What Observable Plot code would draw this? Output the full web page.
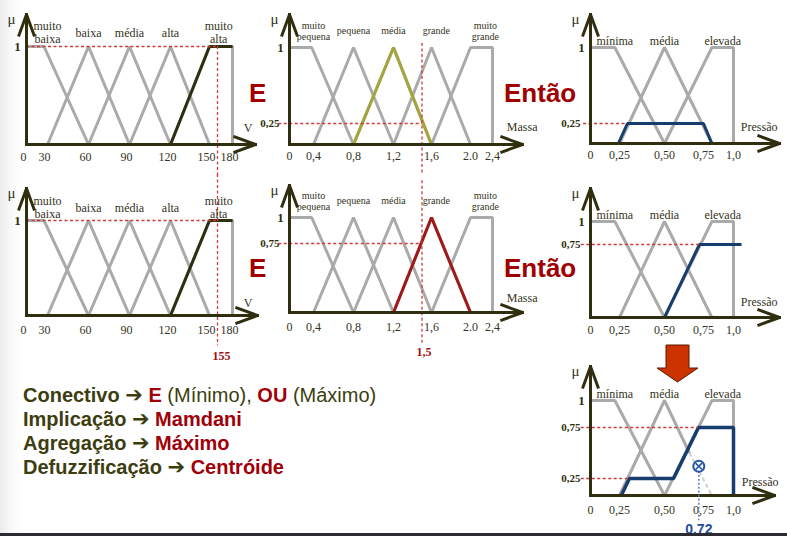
<!DOCTYPE html>
<html><head><meta charset="utf-8">
<script src="https://cdn.jsdelivr.net/npm/d3@7"></script>
<script src="https://cdn.jsdelivr.net/npm/@observablehq/plot@0.6"></script>
<style>
body{margin:0;background:#fff;}
#stage{position:relative;width:787px;height:536px;overflow:hidden;background:linear-gradient(to right,#ececec 0px,#f8f8f8 10px,#fff 22px);}
#stage > svg{position:absolute;left:0;top:0;}
.big{position:absolute;font:bold 26px "Liberation Sans",Arial,sans-serif;color:#a00000;line-height:26px;white-space:nowrap;}
#rules{position:absolute;left:23px;top:383px;font:bold 20px "Liberation Sans",Arial,sans-serif;color:#3d3d10;line-height:24px;white-space:nowrap;}
#rules .r{color:#a00008}
#rules .n{font-weight:normal}
#rules .ar{font-family:"DejaVu Sans",sans-serif;font-size:21px}
#bar{position:absolute;left:0;top:533px;width:787px;height:3px;background:#2b2c31}
</style></head>
<body>
<div id="stage"></div>
<script>
// ---------------- DATA ----------------
// Velocidade (V)
const vTicks = [0, 30, 60, 90, 120, 150, 180];
const vTickText = ["0", "30", "60", "90", "120", "150", "180"];
const vMuitoBaixa = [[0, 1], [25, 1], [60, 0]];
const vBaixa = [[30, 0], [60, 1], [90, 0]];
const vMedia = [[60, 0], [90, 1], [120, 0]];
const vAlta = [[90, 0], [120, 1], [150, 0]];
const vMuitoAlta = [[120, 0], [150, 1], [180, 1], [180, 0]];
const vNames = ["muito\nbaixa", "baixa", "média", "alta", "muito\nalta"];
const vNameAt = [30, 60, 90, 120, 157];
const vInput = 155;

// Massa
const mTicks = [0, 0.4, 0.8, 1.2, 1.6, 2.0, 2.4];
const mTickText = ["0", "0,4", "0,8", "1,2", "1,6", "2.0", "2,4"];
const mMuitoPequena = [[0, 1], [0.37, 1], [0.8, 0]];
const mPequena = [[0.4, 0], [0.8, 1], [1.2, 0]];
const mMedia = [[0.8, 0], [1.2, 1], [1.6, 0]];
const mGrande = [[1.2, 0], [1.6, 1], [2.0, 0]];
const mMuitoGrande = [[1.6, 0], [2.0, 1], [2.4, 1], [2.4, 0]];
const mNames = ["muito\npequena", "pequena", "média", "grande", "muito\ngrande"];
const mNameAt = [0.4, 0.8, 1.2, 1.65, 2.27];
const mInput = 1.5;

// Pressão
const pTicks = [0, 0.25, 0.5, 0.75, 1.0];
const pTickText = ["0", "0,25", "0,50", "0,75", "1,0"];
const pMinima = [[0, 1], [0.21, 1], [0.5, 0]];
const pMedia = [[0.25, 0], [0.5, 1], [0.82, 0]];
const pMediaUpper = [[0.25, 0], [0.5, 1], [0.66, 0.5]];
const pMediaLower = [[0.66, 0.5], [0.82, 0]];
const pElevada = [[0.5, 0], [0.82, 1], [1.0, 1], [1.0, 0]];
const pNames = ["mínima", "média", "elevada"];
const pNameAt = [0.21, 0.5, 0.91];

// Regras (graus de pertinência)
const rule1Mu = 0.25;   // min(1 ; 0,25)
const rule2Mu = 0.75;   // min(1 ; 0,75)
const out1 = [[0.24, 0], [0.294, 0.25], [0.75, 0.25], [0.82, 0]];
const out2 = [[0.5, 0], [0.724, 0.75], [1.035, 0.75]];
const agg = [[0.26, 0], [0.305, 0.25], [0.558, 0.25], [0.718, 0.75], [1.0, 0.75], [1.0, 0]];
const centroid = 0.72;
const centroidMu = 0.37;
const centroidText = "0.72";

// ---------------- STYLE / LAYOUT ----------------
const GRAY = "#aaaaaa", AXIS = "#2f2f10", DASH = "#d23a3a", BLUE = "#173c6e", TXT = "#333322";
const SERIF = "Liberation Serif, Times New Roman, serif";
const stage = document.getElementById("stage");

// piecewise axes of the sketch (the drawing is not exactly linear)
const xV = [0, 30, 60, 90, 120, 150, 155, 180, 198];
const xM = [0, 0.4, 0.8, 1.2, 1.6, 2.0, 2.4, 2.6];
const xMpx = [289, 313, 353, 393, 431, 470, 492, 522];
const xP = [0, 0.25, 0.5, 0.75, 1.0, 1.2];

const line = (pts, stroke, w = 3, dash) =>
  Plot.line(pts, {x: d => d[0], y: d => d[1], stroke, strokeWidth: w, strokeDasharray: dash, strokeLinejoin: "miter", strokeLinecap: "butt"});

function panel(o) {
  const xd = o.xd, yd = o.yd;
  const xEnd = xd[xd.length - 1], yTop = yd[yd.length - 1];
  const fx = d3.scaleLinear().domain(xd).range(o.xr);
  const fy = d3.scaleLinear().domain(yd).range(o.yr);
  const marks = [];
  o.grays.forEach(s => marks.push(line(s, GRAY, 3, null)));
  (o.lightDash || []).forEach(s => marks.push(line(s, "#cfcfcf", 2, "4,3")));
  (o.highlights || []).forEach(h => marks.push(line(h.pts, h.color, h.w || 3)));
  (o.hRules || []).forEach(r => marks.push(Plot.ruleY([r.y], {x1: r.x1, x2: r.x2, stroke: DASH, strokeWidth: 1.3, strokeDasharray: "3,2.5"})));
  (o.vRules || []).forEach(r => marks.push(Plot.ruleX([r.x], {y1: r.y1, y2: r.y2, stroke: DASH, strokeWidth: 1.3, strokeDasharray: "3,2.5"})));
  // axes with arrows
  marks.push(Plot.arrow([0], {x1: 0, y1: 0, x2: xEnd, y2: 0, stroke: AXIS, strokeWidth: 3, headLength: 11, headAngle: 40, strokeLinecap: "square"}));
  marks.push(Plot.arrow([0], {x1: 0, y1: 0, x2: 0, y2: yTop, stroke: AXIS, strokeWidth: 3, headLength: 11, headAngle: 40, strokeLinecap: "square"}));
  // tick labels
  marks.push(Plot.text(o.ticks.map((v, i) => ({v, t: o.tickText[i]})), {x: "v", y: () => 0, text: "t", dy: o.tickDy, dx: o.tickDx || 0, fontFamily: SERIF, fontSize: 12, fill: TXT}));
  // function names
  marks.push(Plot.text(o.names.map((n, i) => ({n, x: o.nameAt[i]})), {x: "x", y: () => 1, text: "n", dy: o.nameDy, fontFamily: SERIF, fontSize: o.nameSize, lineHeight: o.nameLH || 1.1, fill: TXT}));
  // y labels
  marks.push(Plot.text(["μ"], {x: () => 0, y: () => yTop, text: d => d, dx: -15, dy: 5, fontFamily: SERIF, fontSize: 15, fill: TXT}));
  marks.push(Plot.text(["1"], {x: () => 0, y: () => 1, text: d => d, dx: -9, fontFamily: SERIF, fontSize: 13, fontWeight: "bold", fill: AXIS}));
  (o.yLabels || []).forEach(v => marks.push(Plot.text([v], {x: () => 0, y: d => d, text: d => String(d).replace(".", ","), dx: -10, textAnchor: "end", fontFamily: SERIF, fontSize: 11, fontWeight: "bold", fill: AXIS})));
  // axis title
  marks.push(Plot.text([o.title], {x: () => xEnd, y: () => 0, text: d => d, textAnchor: "end", dx: o.titleDx, dy: o.titleDy, fontFamily: SERIF, fontSize: 12, fill: TXT}));
  (o.extra || []).forEach(m => marks.push(m));
  const svg = Plot.plot({
    width: 787, height: 536, margin: 0,
    x: {type: "linear", domain: [0, 787], range: [0, 787], transform: fx, axis: null},
    y: {type: "linear", domain: [0, 536], range: [0, 536], transform: fy, axis: null},
    style: {background: "transparent", overflow: "visible"},
    marks
  });
  stage.appendChild(svg);
}

const vGrays = [vMuitoBaixa, vBaixa, vMedia, vAlta, vMuitoAlta];
const mGrays = [mMuitoPequena, mPequena, mMedia, mGrande, mMuitoGrande];
const pGrays = [pMinima, pMedia, pElevada];

const vCommon = {xd: xV, ticks: vTicks, tickText: vTickText, tickDx: -3, names: vNames, nameAt: vNameAt, nameSize: 12, nameLH: 1.08, title: "V",
  grays: vGrays, highlights: [{pts: vMuitoAlta.slice(0, 3), color: AXIS}]};
const mCommon = {xd: xM, xr: xMpx, ticks: mTicks, tickText: mTickText, names: mNames, nameAt: mNameAt, nameSize: 10, nameLH: 1.1, title: "Massa", titleDx: 15, grays: mGrays};
const pCommon = {xd: xP, ticks: pTicks, tickText: pTickText, names: pNames, nameAt: pNameAt, nameSize: 12, nameDy: -7, title: "Pressão"};

// A: V (linha 1)
panel({...vCommon, xr: [26, 47, 88, 129, 170, 209, 217, 232, 255], yd: [0, 1, 1.33], yr: [144, 46, 14],
  tickDy: 13, nameDy: -14, titleDx: -3, titleDy: -16,
  hRules: [{y: 1, x1: 0, x2: vInput}], vRules: [{x: vInput, y1: 1, y2: -0.32}]});
// D: V (linha 2)
panel({...vCommon, xr: [26, 47, 88, 129, 170, 209, 217, 232, 257], yd: [0, 1, 1.34], yr: [315, 220, 188],
  tickDy: 15, nameDy: -13, titleDx: -5, titleDy: -12,
  hRules: [{y: 1, x1: 0, x2: vInput}], vRules: [{x: vInput, y1: 1.49, y2: -0.32}],
  extra: [Plot.text([vInput], {x: d => d, y: () => 0, text: d => String(d), dx: 4, dy: 41, fontFamily: SERIF, fontSize: 12, fontWeight: "bold", fill: "#a01010"})]});
// B: Massa (linha 1)
panel({...mCommon, yd: [0, 0.25, 1, 1.4], yr: [144, 123, 47, 14],
  tickDy: 12, nameDy: -17, titleDy: -17, yLabels: [rule1Mu],
  highlights: [{pts: mMedia, color: "#a5a53a"}],
  hRules: [{y: rule1Mu, x1: -0.18, x2: mInput}], vRules: [{x: mInput, y1: 1.05, y2: -0.37}]});
// E: Massa (linha 2)
panel({...mCommon, yd: [0, 0.75, 1, 1.4], yr: [312, 243, 217, 185],
  tickDy: 15, nameDy: -17, titleDy: -14, yLabels: [rule2Mu],
  highlights: [{pts: mGrande, color: "#a01818"}],
  hRules: [{y: rule2Mu, x1: -0.18, x2: mInput}], vRules: [{x: mInput, y1: 1.46, y2: -0.34}],
  extra: [Plot.text([mInput], {x: d => d, y: () => 0, text: d => String(d).replace(".", ","), dx: 2, dy: 40, fontFamily: SERIF, fontSize: 12, fontWeight: "bold", fill: "#a01010"})]});
// C: Pressão (regra 1)
panel({...pCommon, xr: [590, 619, 664, 703, 733, 779], yd: [0, 0.25, 1, 1.4], yr: [143, 123, 47, 14],
  tickDy: 12, titleDx: -2, titleDy: -16, grays: pGrays, yLabels: [rule1Mu],
  highlights: [{pts: out1, color: BLUE}],
  hRules: [{y: rule1Mu, x1: -0.06, x2: out1[1][0]}]});
// F: Pressão (regra 2)
panel({...pCommon, xr: [590, 619, 664, 703, 733, 779], yd: [0, 0.75, 1, 1.4], yr: [317, 244, 221, 188],
  tickDy: 13, titleDx: -2, titleDy: -15, grays: pGrays, yLabels: [rule2Mu],
  highlights: [{pts: out2, color: BLUE}],
  hRules: [{y: rule2Mu, x1: -0.08, x2: out2[1][0]}]});
// G: agregação + centroide
panel({...pCommon, xr: [590, 619, 664, 703, 733, 774], yd: [0, 0.25, 0.75, 1, 1.4], yr: [495, 478, 427, 400, 366],
  tickDy: 15, titleDx: 4, titleDy: -13, grays: [pMinima, pMediaUpper, pElevada], lightDash: [pMediaLower],
  yLabels: [rule2Mu, rule1Mu],
  highlights: [{pts: agg, color: BLUE, w: 3.5}],
  hRules: [{y: rule2Mu, x1: -0.08, x2: agg[3][0]}, {y: rule1Mu, x1: -0.08, x2: agg[1][0]}],
  extra: [
    Plot.ruleX([centroid], {y1: centroidMu - 0.05, y2: -0.37, stroke: "#5a7db5", strokeWidth: 1.5, strokeDasharray: "2,2"}),
    Plot.dot([centroid], {x: d => d, y: () => centroidMu, r: 5.5, stroke: "#2456a8", strokeWidth: 2, fill: "white"}),
    Plot.dot([centroid], {x: d => d, y: () => centroidMu, r: 3, symbol: "times", stroke: "#2456a8", strokeWidth: 1.6}),
    Plot.text([centroidText], {x: () => centroid, y: () => 0, text: d => d, dy: 34, fontFamily: "Liberation Sans, Arial, sans-serif", fontSize: 14, fontWeight: "bold", fill: "#1f4e9c"})
  ]});

// decorative texts and arrow
stage.insertAdjacentHTML("beforeend", `
<div class="big" style="left:249px;top:80px">E</div>
<div class="big" style="left:504px;top:80px">Então</div>
<div class="big" style="left:249px;top:255px">E</div>
<div class="big" style="left:504px;top:255px">Então</div>
<svg width="787" height="536" style="position:absolute;left:0;top:0;pointer-events:none"><polygon points="666,345 689,345 689,368 698,368 677.5,382 657,368 666,368" fill="#cc3300" stroke="#5a1a05" stroke-width="1"/></svg>
<div id="rules">
<div>Conectivo <span class="ar">➔</span> <span class="r">E</span> <span class="n">(Mínimo),</span> <span class="r">OU</span> <span class="n">(Máximo)</span></div>
<div>Implicação <span class="ar">➔</span> <span class="r">Mamdani</span></div>
<div>Agregação <span class="ar">➔</span> <span class="r">Máximo</span></div>
<div>Defuzzificação <span class="ar">➔</span> <span class="r">Centróide</span></div>
</div>
<div id="bar"></div>`);
</script>
</body></html>
